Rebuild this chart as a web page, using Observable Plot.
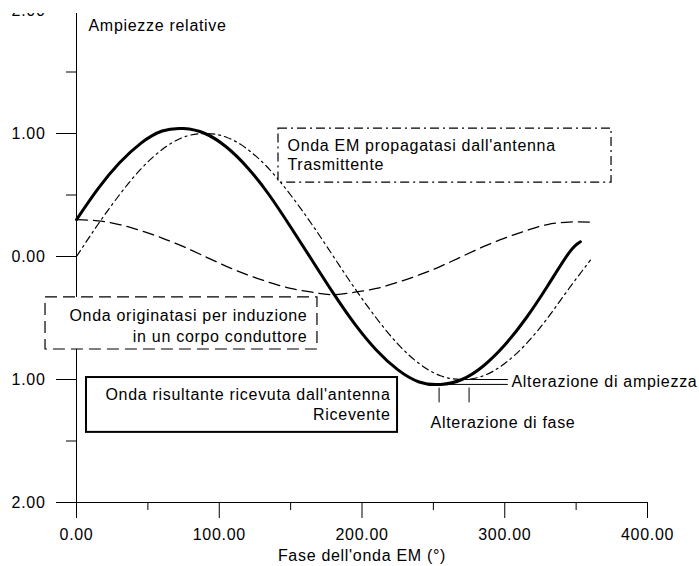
<!DOCTYPE html>
<html>
<head>
<meta charset="utf-8">
<script src="https://cdn.jsdelivr.net/npm/d3@7"></script>
<script src="https://cdn.jsdelivr.net/npm/@observablehq/plot@0.6"></script>
<style>
  html, body { margin: 0; padding: 0; background: #fff; }
  #chart { width: 699px; height: 566px; overflow: hidden; }
</style>
</head>
<body>
<div id="chart"></div>
<script>
// Fase (gradi) e ampiezze relative
const fase = [0, 15, 30, 45, 60, 75, 90, 105, 120, 135, 150, 165, 180, 195, 210, 225, 240, 255, 270, 285, 300, 315, 330, 345, 360];
const ondaTrasmessa = [0.00, 0.26, 0.50, 0.71, 0.87, 0.97, 1.00, 0.97, 0.87, 0.71, 0.50, 0.26, 0.00, -0.26, -0.50, -0.71, -0.87, -0.97, -1.00, -0.97, -0.87, -0.71, -0.50, -0.26, -0.03];
const ondaIndotta = [0.30, 0.29, 0.26, 0.21, 0.15, 0.08, 0.00, -0.08, -0.15, -0.21, -0.26, -0.29, -0.31, -0.29, -0.26, -0.21, -0.15, -0.08, 0.00, 0.08, 0.15, 0.21, 0.26, 0.28, 0.28];
const faseRisultante = [0, 15, 30, 45, 60, 75, 90, 105, 120, 135, 150, 165, 180, 195, 210, 225, 240, 255, 270, 285, 300, 315, 330, 345, 353];
const ondaRisultante = [0.30, 0.55, 0.76, 0.92, 1.02, 1.04, 1.00, 0.89, 0.72, 0.50, 0.24, -0.03, -0.30, -0.55, -0.76, -0.92, -1.02, -1.04, -1.00, -0.89, -0.72, -0.50, -0.24, 0.03, 0.12];

const xTicks = [0, 100, 200, 300, 400];
const xMinorTicks = [50, 150, 250, 350];
const yTicks = [-2, -1, 0, 1, 2];
const yMinorTicks = [-1.5, -0.5, 0.5, 1.5];

const titoloY = "Ampiezze relative";
const titoloX = "Fase dell'onda EM (°)";

// Riquadri delle didascalie (coordinate nei dati: fase, ampiezza)
const boxTrasmessa = [{x1: 141.5, x2: 374.8, y1: 1.04, y2: 0.60}];
const boxIndotta = [{x1: -21.7, x2: 168.8, y1: -0.333, y2: -0.756}];
const boxRisultante = [{x1: 7, x2: 224.9, y1: -0.984, y2: -1.43}];

const testoTrasmessa = [{x: 147.8, y: 0.83, t: "Onda EM propagatasi dall'antenna\nTrasmittente"}];
const testoIndotta = [{x: 161.8, y: -0.553, t: "Onda originatasi per induzione\nin un corpo conduttore"}];
const testoRisultante = [{x: 220, y: -1.195, t: "Onda risultante ricevuta dall'antenna\nRicevente"}];

// Indicatori di alterazione
const lineeAmpiezza = [{y: -1.04, x1: 251, x2: 302.5}, {y: -1.0, x1: 271, x2: 302.5}];
const tacchetteFase = [{x: 254, y1: -1.07, y2: -1.19}, {x: 275, y1: -1.07, y2: -1.19}];
const etichette = [
  {x: 304.7, y: -1.016, t: "Alterazione di ampiezza"},
  {x: 248, y: -1.35, t: "Alterazione di fase"}
];

const trasmessa = fase.map((f, i) => ({f, a: ondaTrasmessa[i]}));
const indotta = fase.map((f, i) => ({f, a: ondaIndotta[i]}));
const risultante = faseRisultante.map((f, i) => ({f, a: ondaRisultante[i]}));

const fmt = d => Math.abs(d).toFixed(2);
const FS = 16;

const chart = Plot.plot({
  width: 699,
  height: 566,
  marginLeft: 76,
  marginRight: 52,
  marginTop: 10,
  marginBottom: 64,
  style: {fontFamily: "'Liberation Sans', Arial, sans-serif", fontSize: FS + "px", letterSpacing: "0.7px", color: "#000", background: "#fff"},
  x: {domain: [0, 400]},
  y: {domain: [-2, 2]},
  marks: [
    Plot.ruleX([0], {y1: -2, y2: 2, stroke: "#000", strokeWidth: 1}),
    Plot.ruleY([-2], {x1: 0, x2: 400, stroke: "#000", strokeWidth: 1.2}),
    Plot.axisY({ticks: yTicks, tickSize: 20, tickPadding: 11, tickFormat: fmt, label: null, stroke: "#000", fill: "#000", fontSize: FS}),
    Plot.axisY({ticks: yMinorTicks, tickSize: 10, tickFormat: () => "", label: null, stroke: "#000"}),
    Plot.axisX({ticks: xTicks, tickSize: 16, tickPadding: 10, tickFormat: d => d.toFixed(2), label: null, stroke: "#000", fill: "#000", fontSize: FS}),
    Plot.axisX({ticks: xMinorTicks, tickSize: 8, tickFormat: () => "", label: null, stroke: "#000"}),
    Plot.text([titoloX], {frameAnchor: "bottom", dy: 58, fontSize: FS, fill: "#000"}),
    Plot.text([titoloY], {frameAnchor: "top-left", dx: 12, dy: 9, textAnchor: "start", fontSize: FS, fill: "#000"}),

    Plot.line(indotta, {x: "f", y: "a", curve: "natural", stroke: "#000", strokeWidth: 1.3, strokeDasharray: "11,6"}),
    Plot.line(trasmessa, {x: "f", y: "a", curve: "natural", stroke: "#000", strokeWidth: 1.2, strokeDasharray: "7,4,2,4"}),
    Plot.line(risultante, {x: "f", y: "a", curve: "natural", stroke: "#000", strokeWidth: 3}),

    Plot.rect(boxTrasmessa, {x1: "x1", x2: "x2", y1: "y1", y2: "y2", fill: "#fff", stroke: "#000", strokeWidth: 1.2, strokeDasharray: "9,4,2,4"}),
    Plot.rect(boxIndotta, {x1: "x1", x2: "x2", y1: "y1", y2: "y2", fill: "#fff", stroke: "#000", strokeWidth: 1.2, strokeDasharray: "12,6"}),
    Plot.rect(boxRisultante, {x1: "x1", x2: "x2", y1: "y1", y2: "y2", fill: "#fff", stroke: "#000", strokeWidth: 2}),

    Plot.text(testoTrasmessa, {x: "x", y: "y", text: "t", textAnchor: "start", lineHeight: 1.22, fontSize: FS, fill: "#000"}),
    Plot.text(testoIndotta, {x: "x", y: "y", text: "t", textAnchor: "end", lineHeight: 1.35, fontSize: FS, fill: "#000"}),
    Plot.text(testoRisultante, {x: "x", y: "y", text: "t", textAnchor: "end", lineHeight: 1.25, fontSize: FS, fill: "#000"}),

    Plot.ruleY(lineeAmpiezza, {y: "y", x1: "x1", x2: "x2", stroke: "#000", strokeWidth: 1}),
    Plot.ruleX(tacchetteFase, {x: "x", y1: "y1", y2: "y2", stroke: "#000", strokeWidth: 1}),
    Plot.text(etichette, {x: "x", y: "y", text: "t", textAnchor: "start", fontSize: FS, fill: "#000"})
  ]
});
chart.style.clipPath = "inset(13px 0 0 0)";
document.getElementById("chart").appendChild(chart);
</script>
</body>
</html>
